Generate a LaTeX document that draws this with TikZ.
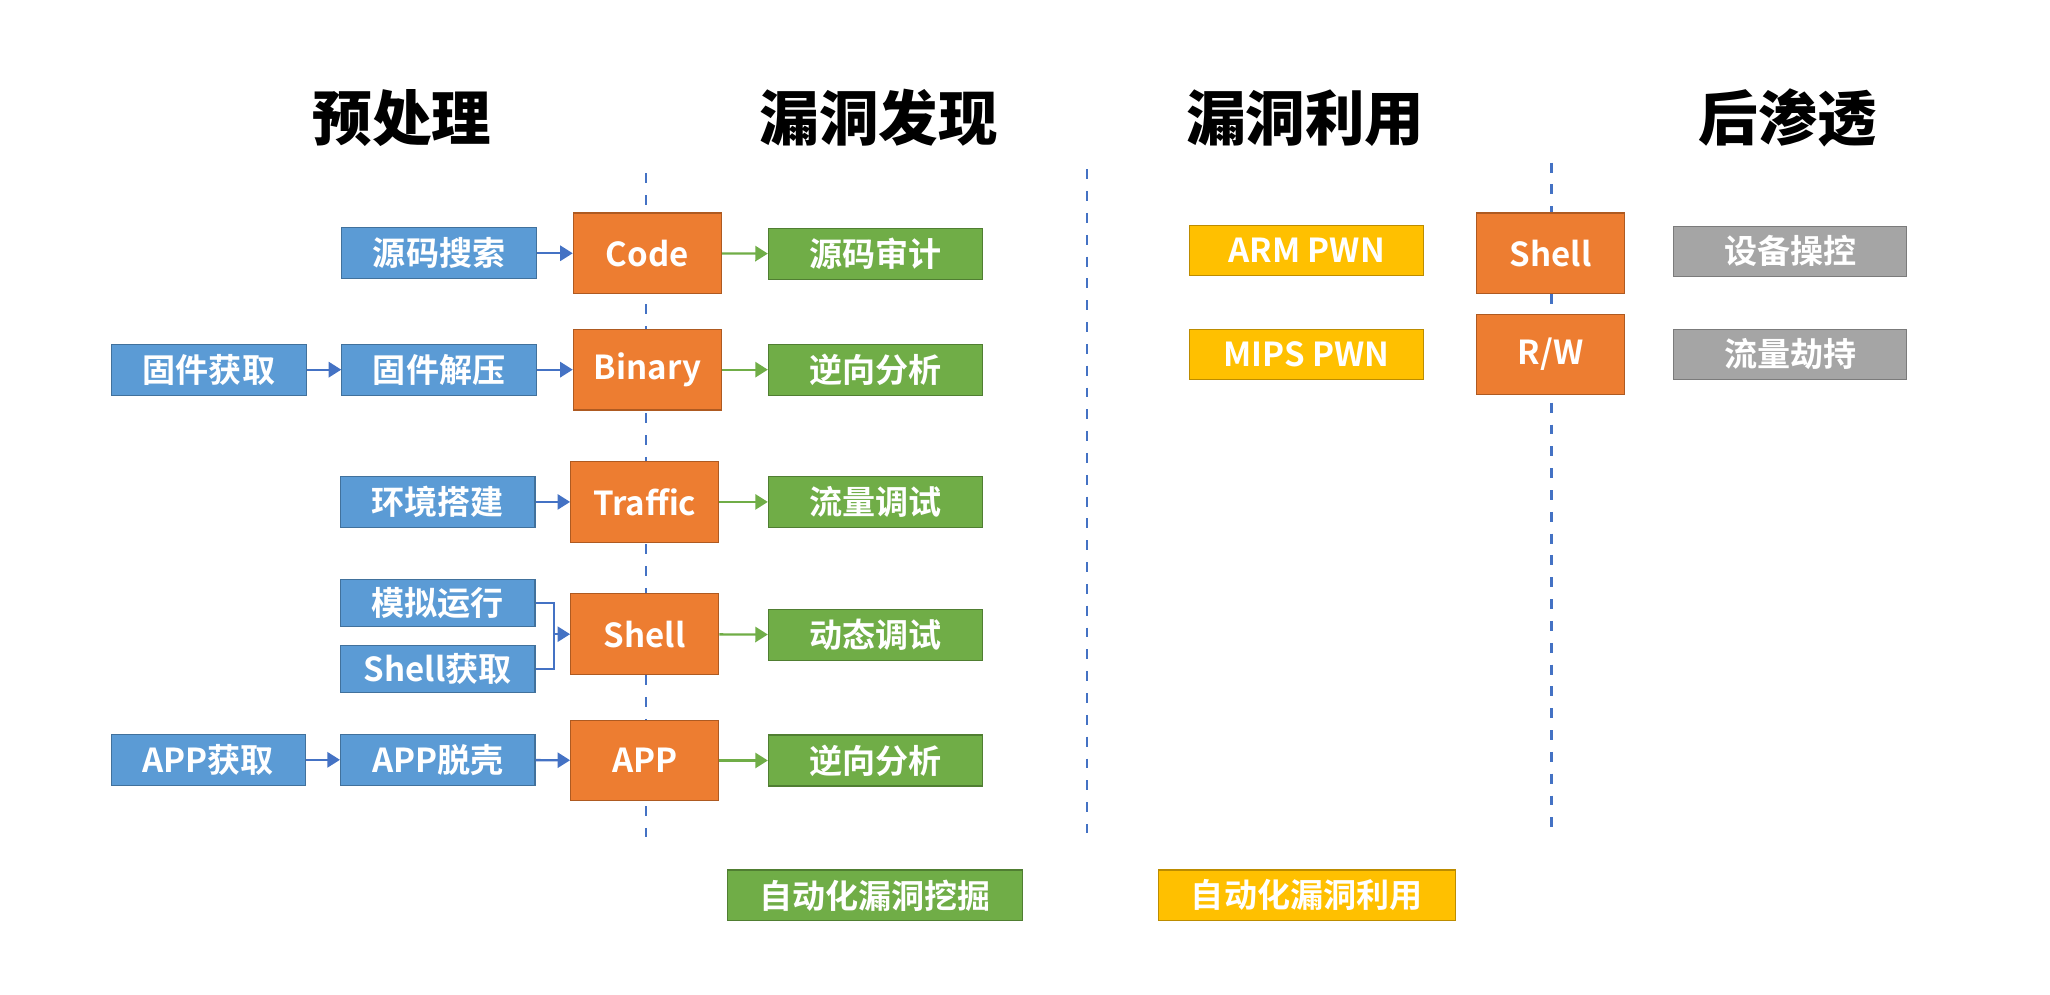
\documentclass[tikz,border=0pt]{standalone}
\usepackage{fontspec}
\setmainfont{Noto Sans CJK SC}[BoldFont={Noto Sans CJK SC Bold}]
\IfFontExistsTF{Noto Sans CJK SC Black}
  {\newfontfamily\heavy{Noto Sans CJK SC Black}}
  {\newfontfamily\heavy{Noto Sans CJK SC Bold}[FakeBold=1.5]}
\usepackage{tikz}
\usetikzlibrary{arrows.meta}
\usetikzlibrary{positioning}
\definecolor{prep}{HTML}{5B9BD5}
\definecolor{prepline}{HTML}{41719C}
\definecolor{core}{HTML}{ED7D31}
\definecolor{coreline}{HTML}{AE5A21}
\definecolor{find}{HTML}{70AD47}
\definecolor{findline}{HTML}{507E32}
\definecolor{pwn}{HTML}{FFC000}
\definecolor{pwnline}{HTML}{BC8C00}
\definecolor{post}{HTML}{A5A5A5}
\definecolor{postline}{HTML}{7B7B7B}
\definecolor{divide}{HTML}{4472C4}
\tikzset{box/.style={rectangle, inner sep=0pt, line width=0.9pt, text=white,
           font=\fontsize{25}{25}\selectfont\bfseries, minimum height=38.5pt},
         Prep/.style={box, fill=prep, draw=prepline, minimum width=147pt},
         Core/.style={box, fill=core, draw=coreline, minimum width=112pt, minimum height=61pt},
         Find/.style={box, fill=find, draw=findline, minimum width=162pt},
         Pwn/.style={box, fill=pwn, draw=pwnline, minimum width=177pt},
         Post/.style={box, fill=post, draw=postline, minimum width=176.5pt},
         Stage/.style={font=\fontsize{45}{45}\selectfont\heavy},
         Divider/.style={draw=divide, line width=2pt, dash pattern=on 7.5pt off 9pt},
         Flow/.style={line width=1.75pt, -{Triangle[length=9.5pt,width=11.5pt]}}}

\begin{document}
\begin{tikzpicture}[x=1pt, y=-1pt]
  \useasboundingbox (0,0) rectangle (1550,751.6);
  % stage titles
  \node[Stage] (T0) at (304,89) {预处理};
  \node[Stage] (T1) at (664.5,89) {漏洞发现};
  \node[Stage] (T2) at (987,89) {漏洞利用};
  \node[Stage] (T3) at (1352,89) {后渗透};
  % dividers
  \coordinate (D0a) at (488.5,131); \coordinate (D0b) at (488.5,633);
  \coordinate (D1a) at (822,128); \coordinate (D1b) at (822,630);
  \coordinate (D2a) at (1173,123); \coordinate (D2b) at (1173,626);
  \draw[Divider] (D0a) -- (D0b);
  \draw[Divider] (D1a) -- (D1b);
  \draw[Divider] (D2a) -- (D2b);
  % preprocessing
  \node[Prep] (P0) at (332,191.5) {源码搜索};
  \node[Prep] (P1) at (158,279.5) {固件获取};
  \node[Prep] (P2) at (332,279.5) {固件解压};
  \node[Prep] (P3) at (331,379.5) {环境搭建};
  \node[Prep, minimum height=35.5pt] (P4) at (331,456) {模拟运行};
  \node[Prep, minimum height=35.5pt] (P5) at (331,506) {Shell获取};
  \node[Prep] (P6) at (157.5,574.5) {APP获取};
  \node[Prep] (P7) at (331,574.5) {APP脱壳};
  % targets
  \node[Core] (C0) at (489.5,191.5) {Code};
  \node[Core] (C1) at (489.5,279.5) {Binary};
  \node[Core] (C2) at (487.5,379.5) {Traffic};
  \node[Core] (C3) at (487.5,479.5) {Shell};
  \node[Core] (C4) at (487.5,575) {APP};
  \node[Core] (C5) at (1172.5,191.5) {Shell};
  \node[Core] (C6) at (1172.5,268) {R/W};
  % discovery
  \node[Find] (F0) at (662,192) {源码审计};
  \node[Find] (F1) at (662,279.5) {逆向分析};
  \node[Find] (F2) at (662,379.5) {流量调试};
  \node[Find] (F3) at (662,480) {动态调试};
  \node[Find] (F4) at (662,575) {逆向分析};
  \node[Find, minimum width=223pt] (F5) at (661.5,677) {自动化漏洞挖掘};
  % exploitation
  \node[Pwn, minimum height=38pt] (X0) at (988,189.5) {ARM PWN};
  \node[Pwn, minimum height=38pt] (X1) at (988,268) {MIPS PWN};
  \node[Pwn, minimum width=224.5pt] (X2) at (988,677) {自动化漏洞利用};
  % post exploitation
  \node[Post, minimum height=38pt] (Q0) at (1353.5,190) {设备操控};
  \node[Post, minimum height=38pt] (Q1) at (1353.5,268) {流量劫持};
  % arrows
  \coordinate (J) at (419,479.5);
  \path[Flow, color=divide]
    (P0) edge (C0)
    (P1) edge (P2)
    (P2) edge (C1)
    (P3) edge (C2)
    (P6) edge (P7)
    (P7) edge (C4);
  \draw[line width=1.75pt, color=divide] (P4.east) -| (J) |- (P5.east);
  \draw[Flow, color=divide] (J) -- (C3.west);
  \path[Flow, color=find]
    (C0) edge (F0)
    (C1) edge (F1)
    (C2) edge (F2)
    (C3) edge (F3)
    (C4) edge (F4);
\end{tikzpicture}
\end{document}
